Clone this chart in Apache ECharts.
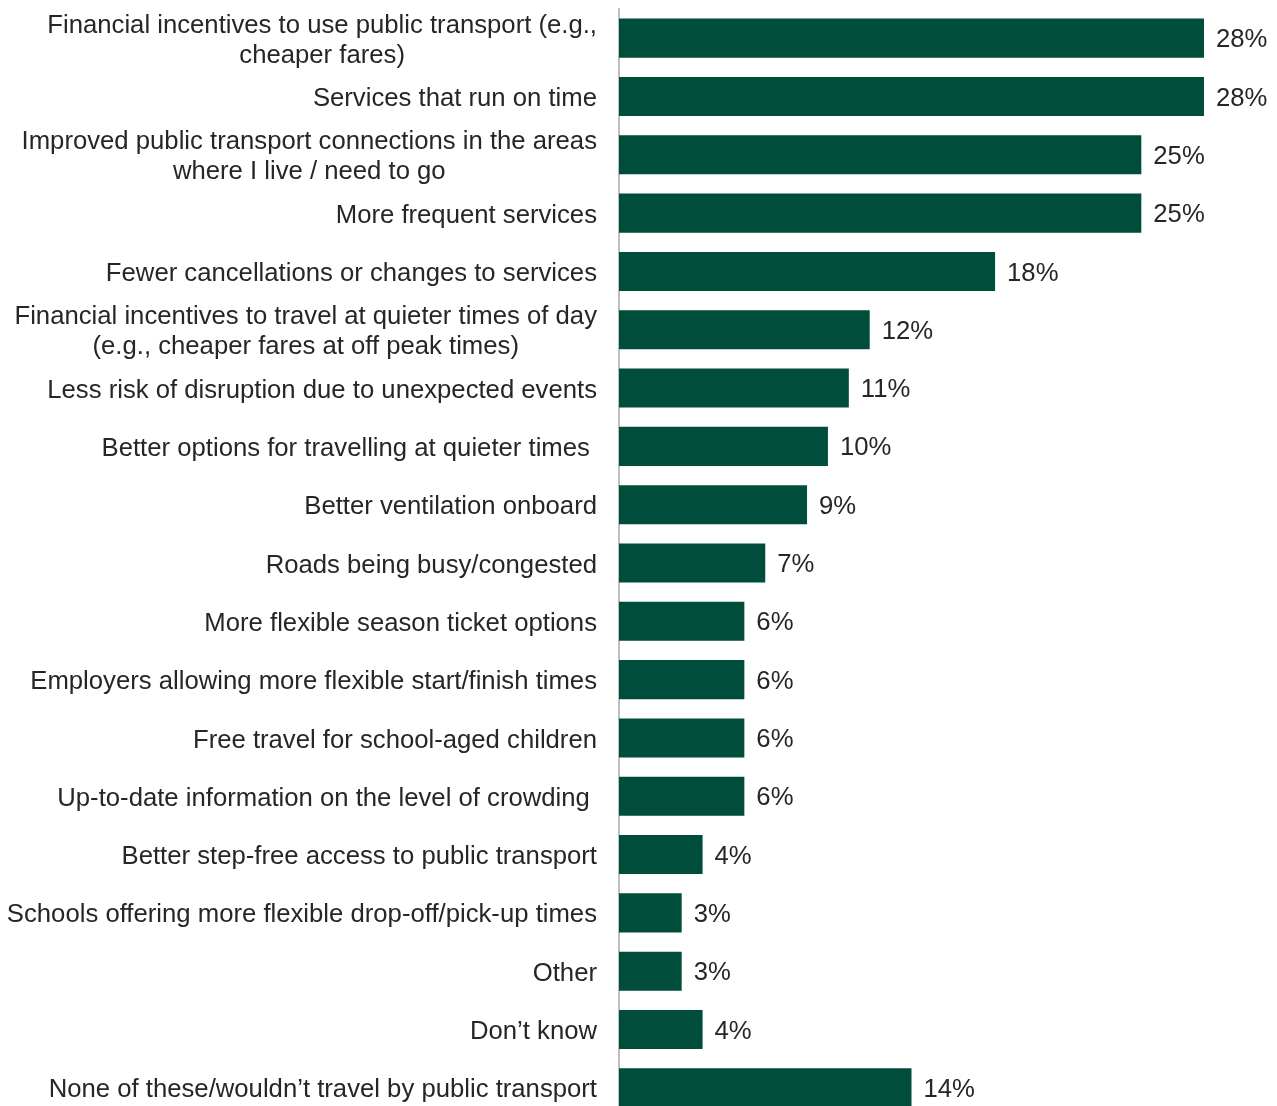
<!DOCTYPE html>
<html>
<head>
<meta charset="utf-8">
<style>
  html, body { margin: 0; padding: 0; background: #ffffff; }
  #chart { width: 1277px; height: 1106px; }
</style>
<script src="https://cdn.jsdelivr.net/npm/echarts@6/dist/echarts.min.js"></script>
</head>
<body>
<div id="chart"></div>
<script>
// Measures that would encourage travel by public transport (% of respondents)
const categories = [
  'Financial incentives to use public transport (e.g.,\ncheaper fares)',
  'Services that run on time',
  'Improved public transport connections in the areas\nwhere I live / need to go',
  'More frequent services',
  'Fewer cancellations or changes to services',
  'Financial incentives to travel at quieter times of day\n(e.g., cheaper fares at off peak times)',
  'Less risk of disruption due to unexpected events',
  'Better options for travelling at quieter times ',
  'Better ventilation onboard',
  'Roads being busy/congested',
  'More flexible season ticket options',
  'Employers allowing more flexible start/finish times',
  'Free travel for school-aged children',
  'Up-to-date information on the level of crowding ',
  'Better step-free access to public transport',
  'Schools offering more flexible drop-off/pick-up times',
  'Other',
  'Don\u2019t know',
  'None of these/wouldn\u2019t travel by public transport'
];
const values = [28, 28, 25, 25, 18, 12, 11, 10, 9, 7, 6, 6, 6, 6, 4, 3, 3, 4, 14];

const FONT = '"Liberation Sans", Arial, sans-serif';
const TEXT = '#262626';
const SIZE = 25.7;

const chart = echarts.init(document.getElementById('chart'), null, { renderer: 'canvas' });
chart.setOption({
  backgroundColor: '#ffffff',
  animation: false,
  grid: {
    left: 619, top: 9, width: 585, height: 1108,
    containLabel: false,
    outerBoundsMode: 'none'
  },
  xAxis: { type: 'value', min: 0, max: 28, show: false },
  yAxis: {
    type: 'category',
    data: categories,
    inverse: true,
    axisLine: { show: true, lineStyle: { color: '#bfbfbf', width: 2 } },
    axisTick: { show: false },
    splitLine: { show: false },
    axisLabel: {
      margin: 22,
      color: TEXT,
      fontFamily: FONT,
      fontSize: SIZE,
      lineHeight: 30,
      padding: [5, 0, 0, 0],
      formatter: function (v) {
        return v.split('\n').map(function (s) { return '{c|' + s + '}'; }).join('\n');
      },
      rich: { c: { align: 'center', color: TEXT, fontFamily: FONT, fontSize: SIZE, lineHeight: 30 } }
    }
  },
  series: [{
    type: 'bar',
    data: values,
    barCategoryGap: '33%',
    itemStyle: { color: '#014d3b' },
    label: {
      show: true,
      position: 'right',
      distance: 12,
      offset: [0, 2],
      formatter: '{c}%',
      color: TEXT,
      fontFamily: FONT,
      fontSize: SIZE
    }
  }]
});
</script>
</body>
</html>
